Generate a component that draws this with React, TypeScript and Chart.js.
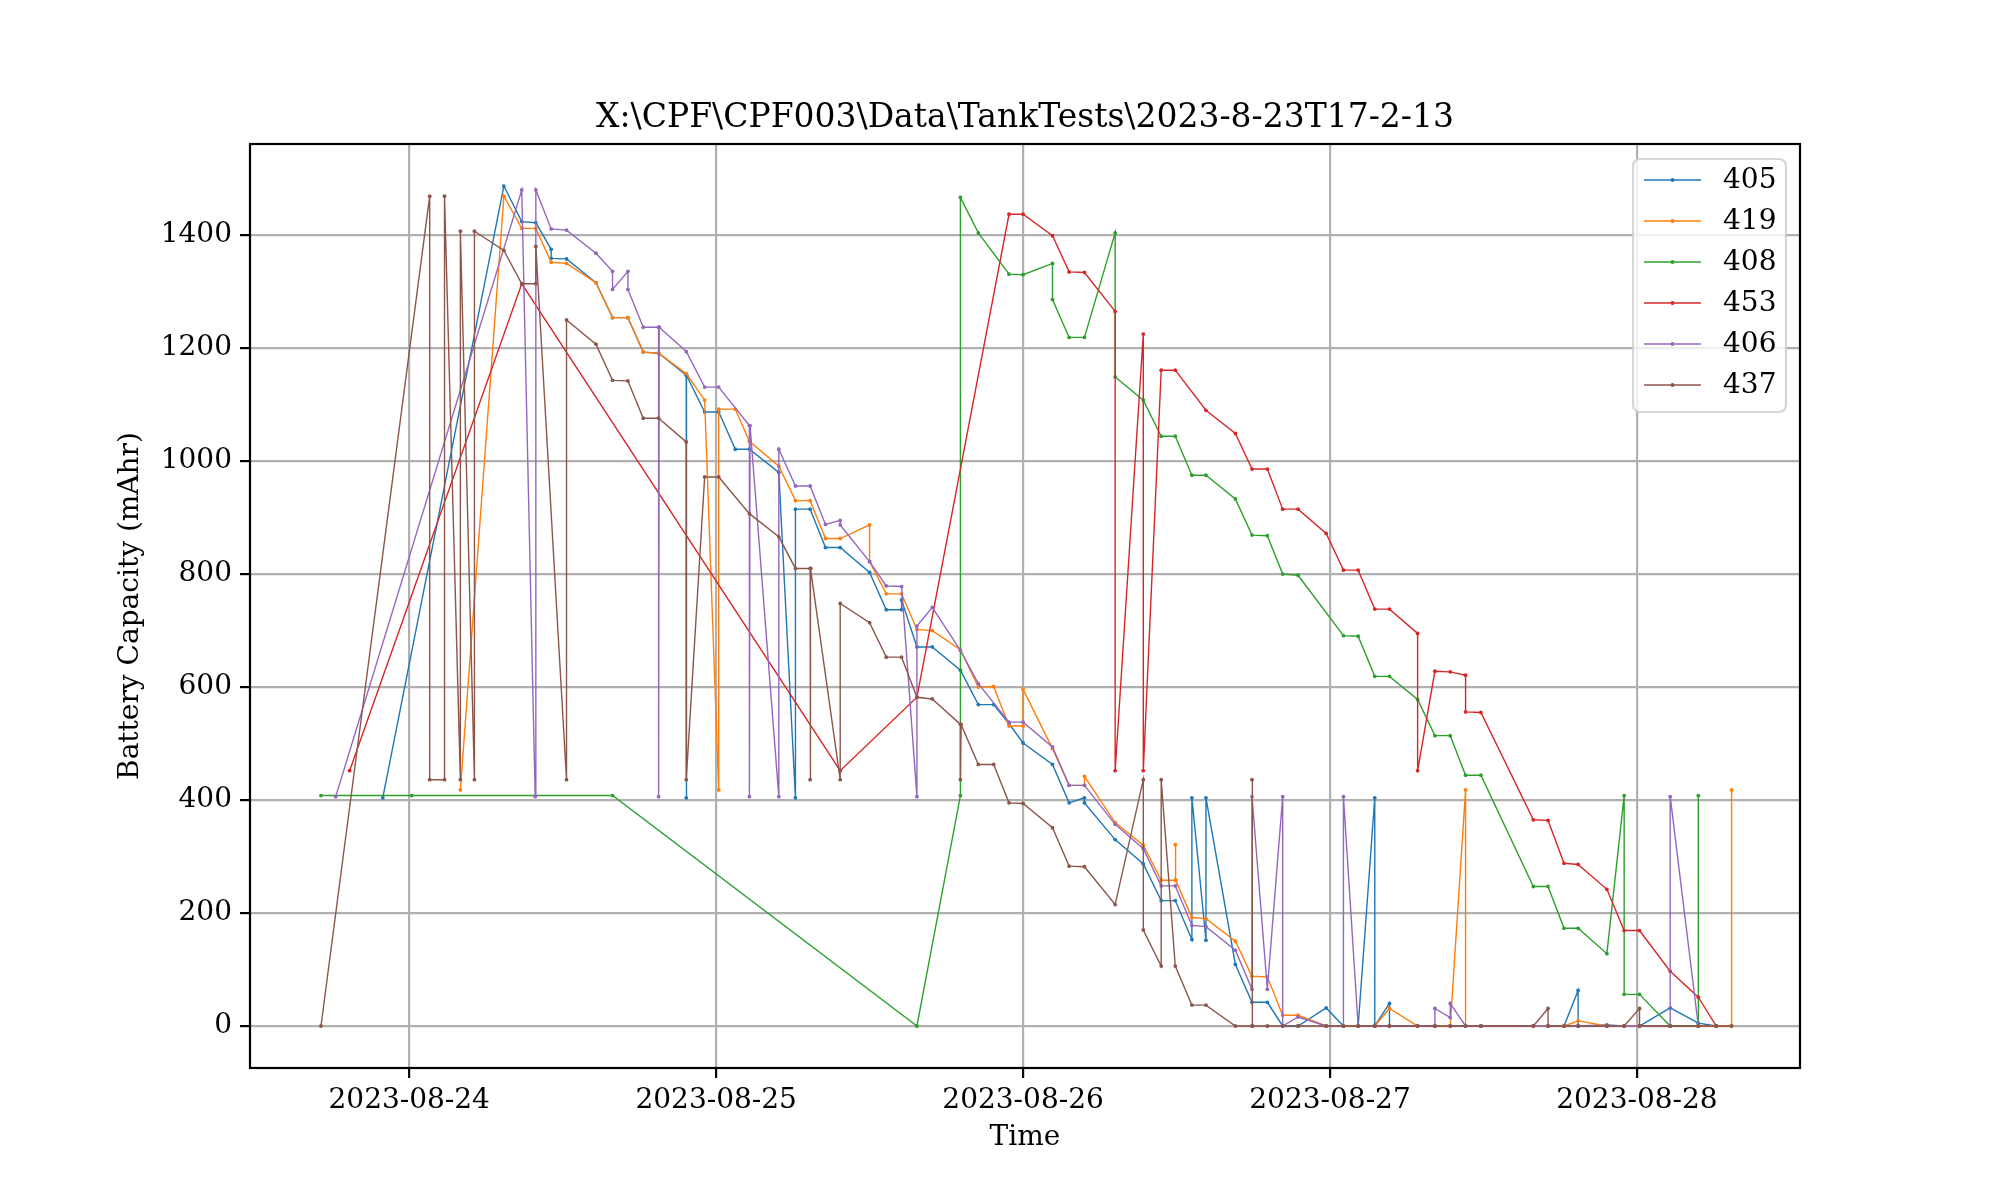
import { useEffect, useRef } from 'react';
import { Chart, registerables } from 'chart.js';

Chart.register(...registerables);

// time is hours since 2023-08-24 00:00, value is battery capacity in mAhr
const s405: [number, number][] = [
  [-2.07, 404], [7.4, 1487], [8.8, 1424], [9.9, 1422], [11.1, 1375], [11.1, 1359], [12.3, 1358],
  [14.6, 1316], [15.9, 1254], [17.1, 1254], [18.3, 1193], [19.5, 1191], [21.66, 1152], [21.66, 404],
  [21.7, 1152], [23.1, 1087], [24.2, 1087], [25.5, 1021], [26.6, 1021], [28.9, 980], [30.2, 404],
  [30.2, 915], [31.35, 915], [32.55, 847], [33.7, 847], [36.0, 803], [37.3, 737], [38.5, 737],
  [38.5, 754], [39.7, 671], [40.9, 671], [43.1, 630], [44.5, 569], [45.7, 569], [46.9, 535],
  [48.0, 501], [50.3, 463], [51.6, 395], [52.8, 404], [52.8, 395], [55.2, 330], [57.4, 287],
  [58.8, 222], [59.9, 222], [61.2, 153], [61.2, 404], [62.3, 152], [62.3, 404], [64.6, 109],
  [65.9, 42], [67.1, 42], [68.3, 0], [69.5, 0], [71.7, 32], [73.05, 0], [74.2, 0], [75.5, 404],
  [75.5, 0], [76.65, 40], [76.65, 0], [78.85, 0], [80.2, 0], [81.4, 0], [82.6, 0], [83.8, 0],
  [87.9, 0], [89.05, 0], [90.3, 0], [91.4, 63], [91.4, 0], [93.65, 2], [95.0, 0], [96.2, 0],
  [98.6, 32], [100.8, 5], [102.2, 0],
];

const s419: [number, number][] = [
  [4.0, 418], [7.4, 1469], [8.8, 1412], [9.9, 1412], [11.1, 1352], [12.3, 1350], [14.6, 1316],
  [15.9, 1254], [17.1, 1254], [18.3, 1193], [19.5, 1191], [21.66, 1155], [23.1, 1108], [24.2, 418],
  [24.2, 1092], [25.5, 1092], [26.6, 1035], [28.9, 991], [30.2, 930], [31.35, 930], [32.55, 863],
  [33.7, 863], [36.0, 887], [36.0, 822], [37.3, 765], [38.5, 765], [39.7, 702], [40.9, 700],
  [43.1, 666], [44.5, 600], [45.7, 601], [46.9, 531], [48.0, 531], [48.0, 596], [50.3, 491],
  [51.6, 426], [52.8, 426], [52.8, 442], [55.2, 360], [57.4, 320], [58.8, 258], [59.9, 258],
  [59.9, 321], [59.95, 258], [61.2, 192], [62.3, 190], [64.6, 150], [65.9, 88], [67.1, 87],
  [68.3, 19], [69.5, 19], [71.7, 0], [73.05, 0], [74.2, 0], [75.5, 0], [76.65, 31], [78.85, 0],
  [80.2, 0], [81.4, 0], [82.6, 418], [82.6, 0], [83.8, 0], [87.9, 0], [89.05, 0], [90.3, 0],
  [91.4, 9], [93.65, 0], [95.0, 0], [96.2, 0], [98.6, 0], [100.8, 0], [102.2, 0], [103.4, 0],
  [103.4, 418],
];

const s408: [number, number][] = [
  [-6.9, 408], [0.2, 408], [15.9, 408], [39.7, 0], [43.1, 408], [43.1, 1467], [44.5, 1404],
  [46.9, 1331], [48.0, 1330], [50.3, 1350], [50.3, 1286], [51.6, 1219], [52.8, 1219], [55.2, 1404],
  [55.2, 1149], [57.4, 1108], [58.8, 1044], [59.9, 1044], [61.2, 975], [62.3, 975], [64.6, 933],
  [65.9, 869], [67.1, 868], [68.3, 800], [69.5, 798], [73.05, 691], [74.2, 690], [75.5, 619],
  [76.65, 619], [78.85, 578], [80.2, 514], [81.4, 514], [82.6, 444], [83.8, 444], [87.9, 247],
  [89.05, 247], [90.3, 173], [91.4, 173], [93.65, 128], [95.0, 408], [95.0, 56], [96.2, 56],
  [98.6, 0], [100.8, 0], [100.8, 408],
];

const s453: [number, number][] = [
  [-4.66, 452], [8.8, 1314], [33.7, 452], [39.7, 582], [46.9, 1437], [48.0, 1437], [50.3, 1399],
  [51.6, 1335], [52.8, 1334], [55.2, 1265], [55.2, 452], [57.4, 1225], [57.4, 452], [58.8, 1161],
  [59.9, 1161], [62.3, 1090], [64.6, 1049], [65.9, 986], [67.1, 986], [68.3, 915], [69.5, 915],
  [71.7, 872], [73.05, 807], [74.2, 807], [75.5, 738], [76.65, 738], [78.85, 695], [78.85, 452],
  [80.2, 628], [81.4, 627], [82.6, 621], [82.6, 556], [83.8, 555], [87.9, 365], [89.05, 364],
  [90.3, 288], [91.4, 286], [93.65, 242], [95.0, 169], [96.2, 169], [98.6, 97], [100.8, 51],
  [102.2, 0],
];

const s406: [number, number][] = [
  [-5.75, 406], [8.8, 1480], [9.85, 406], [9.9, 1480], [11.1, 1411], [12.3, 1409], [14.6, 1368],
  [15.9, 1336], [15.9, 1304], [17.1, 1336], [17.1, 1304], [18.3, 1237], [19.5, 1237], [19.5, 406],
  [19.55, 1237], [21.66, 1194], [23.1, 1131], [24.2, 1131], [26.6, 1063], [26.6, 406], [26.65, 1063],
  [28.9, 406], [28.9, 1021], [30.2, 956], [31.35, 956], [32.55, 888], [33.7, 895], [33.7, 887],
  [36.0, 822], [37.3, 779], [38.5, 778], [39.7, 406], [39.7, 708], [40.9, 741], [43.1, 665],
  [44.5, 606], [46.9, 538], [48.0, 538], [50.3, 494], [51.6, 426], [52.8, 426], [55.2, 357],
  [57.4, 314], [58.8, 248], [59.9, 248], [61.2, 178], [62.3, 176], [64.6, 134], [65.9, 65],
  [65.9, 406], [67.1, 65], [68.3, 406], [68.3, 0], [69.5, 16], [71.7, 0], [73.05, 0], [73.05, 406],
  [74.2, 0], [75.5, 0], [76.65, 0], [78.85, 0], [80.2, 0], [80.2, 31], [81.4, 15], [81.4, 40],
  [82.6, 0], [83.8, 0], [87.9, 0], [89.05, 0], [90.3, 0], [91.4, 0], [93.65, 0], [95.0, 0],
  [96.2, 0], [98.6, 0], [98.6, 406], [100.8, 0],
];

const s437: [number, number][] = [
  [-6.9, 0], [1.6, 1469], [1.6, 436], [2.76, 436], [2.76, 1469], [4.0, 436], [4.0, 1407], [5.1, 436],
  [5.1, 1407], [7.4, 1373], [8.8, 1314], [9.9, 1314], [9.9, 1380], [12.3, 436], [12.3, 1250],
  [14.6, 1207], [15.9, 1143], [17.1, 1142], [18.3, 1076], [19.5, 1076], [21.66, 1034], [21.66, 436],
  [23.1, 972], [24.2, 972], [26.6, 907], [28.9, 866], [30.2, 810], [31.35, 810], [31.35, 436],
  [31.4, 810], [33.7, 436], [33.7, 748], [36.0, 714], [37.3, 653], [38.5, 653], [39.7, 582],
  [40.9, 579], [43.1, 534], [43.1, 436], [43.15, 534], [44.5, 463], [45.7, 463], [46.9, 395],
  [48.0, 394], [50.3, 351], [51.6, 283], [52.8, 282], [55.2, 215], [57.4, 436], [57.4, 170],
  [58.8, 106], [58.8, 436], [59.9, 106], [61.2, 37], [62.3, 37], [64.6, 0], [65.9, 0], [65.9, 436],
  [65.95, 0], [67.1, 0], [68.3, 0], [69.5, 0], [71.7, 0], [73.05, 0], [74.2, 0], [75.5, 0],
  [76.65, 0], [78.85, 0], [80.2, 0], [81.4, 0], [82.6, 0], [83.8, 0], [87.9, 0], [89.05, 31],
  [89.05, 0], [90.3, 0], [91.4, 0], [93.65, 0], [95.0, 0], [96.2, 31], [96.2, 0], [98.6, 0],
  [100.8, 0], [102.2, 0], [103.4, 0],
];

const seriesNames = ['405', '419', '408', '453', '406', '437'];
const seriesData = [s405, s419, s408, s453, s406, s437];
const seriesColors = ['#1f77b4', '#ff7f0e', '#2ca02c', '#d62728', '#9467bd', '#8c564b'];

const dayTicks = [0, 24, 48, 72, 96];
const dayLabels = ['2023-08-24', '2023-08-25', '2023-08-26', '2023-08-27', '2023-08-28'];
const capacityTicks = [0, 200, 400, 600, 800, 1000, 1200, 1400];

const chartTitle = 'X:\\CPF\\CPF003\\Data\\TankTests\\2023-8-23T17-2-13';
const xTitle = 'Time';
const yTitle = 'Battery Capacity (mAhr)';

const FONT = '"DejaVu Serif", "Liberation Serif", serif';

// frame, titles and the matplotlib-style legend
const decorations = {
  id: 'decorations',
  afterDraw(chart: Chart) {
    const { ctx, chartArea } = chart;
    const { left, right, top, bottom } = chartArea;
    ctx.save();

    ctx.strokeStyle = '#000';
    ctx.lineWidth = 2.2;
    ctx.strokeRect(left, top, right - left, bottom - top);

    ctx.fillStyle = '#000';
    ctx.textAlign = 'center';
    ctx.textBaseline = 'alphabetic';
    ctx.font = `33px ${FONT}`;
    ctx.fillText(chartTitle, (left + right) / 2, top - 17);

    ctx.font = `28px ${FONT}`;
    ctx.textBaseline = 'middle';
    ctx.fillText(xTitle, (left + right) / 2, 1138);

    ctx.save();
    ctx.translate(131, (top + bottom) / 2);
    ctx.rotate(-Math.PI / 2);
    ctx.fillText(yTitle, 0, 0);
    ctx.restore();

    // legend box
    const bx = 1633, by = 159, bw = 153, bh = 253, r = 7;
    ctx.beginPath();
    ctx.moveTo(bx + r, by);
    ctx.arcTo(bx + bw, by, bx + bw, by + bh, r);
    ctx.arcTo(bx + bw, by + bh, bx, by + bh, r);
    ctx.arcTo(bx, by + bh, bx, by, r);
    ctx.arcTo(bx, by, bx + bw, by, r);
    ctx.closePath();
    ctx.fillStyle = 'rgba(255,255,255,0.8)';
    ctx.fill();
    ctx.strokeStyle = 'rgba(204,204,204,0.8)';
    ctx.lineWidth = 2.2;
    ctx.stroke();

    seriesNames.forEach((name, i) => {
      const y = 180 + i * 41;
      ctx.strokeStyle = seriesColors[i];
      ctx.lineWidth = 1.4;
      ctx.beginPath();
      ctx.moveTo(1644, y);
      ctx.lineTo(1701, y);
      ctx.stroke();
      ctx.fillStyle = seriesColors[i];
      ctx.beginPath();
      ctx.arc(1672.5, y, 2, 0, Math.PI * 2);
      ctx.fill();
      ctx.fillStyle = '#000';
      ctx.textAlign = 'left';
      ctx.textBaseline = 'middle';
      ctx.font = `28px ${FONT}`;
      ctx.fillText(name, 1723, y + 1);
    });

    ctx.restore();
  },
};

export default function App() {
  const canvasRef = useRef<HTMLCanvasElement>(null);

  useEffect(() => {
    if (!canvasRef.current) return;

    const chart = new Chart(canvasRef.current, {
      type: 'line',
      data: {
        datasets: seriesData.map((pts, i) => ({
          label: seriesNames[i],
          data: pts.map(([x, y]) => ({ x, y })),
          borderColor: seriesColors[i],
          backgroundColor: seriesColors[i],
          pointBackgroundColor: seriesColors[i],
          borderWidth: 1.4,
          pointRadius: 1.9,
          pointBorderWidth: 0,
          pointHoverRadius: 0,
          tension: 0,
          fill: false,
          order: seriesData.length - 1 - i,
        })),
      },
      options: {
        responsive: false,
        animation: false,
        devicePixelRatio: 1,
        events: [],
        layout: { padding: { left: 0, top: 144, right: 200, bottom: 0 } },
        plugins: {
          legend: { display: false },
          tooltip: { enabled: false },
          title: { display: false },
        },
        scales: {
          x: {
            type: 'linear',
            min: -12.45,
            max: 108.75,
            afterFit: (axis: any) => {
              axis.height = 132;
            },
            afterBuildTicks: (axis: any) => {
              axis.ticks = dayTicks.map((v) => ({ value: v }));
            },
            grid: {
              color: '#b0b0b0',
              lineWidth: 2.2,
              tickColor: '#000',
              tickWidth: 2.2,
              tickLength: 10,
            },
            border: { display: false },
            ticks: {
              color: '#000',
              font: { family: FONT, size: 28 },
              padding: 6,
              maxRotation: 0,
              autoSkip: false,
              callback: (value: any) => {
                const i = dayTicks.indexOf(Number(value));
                return i >= 0 ? dayLabels[i] : '';
              },
            },
          },
          y: {
            type: 'linear',
            min: -74.35,
            max: 1561.4,
            afterFit: (axis: any) => {
              axis.width = 250;
            },
            afterBuildTicks: (axis: any) => {
              axis.ticks = capacityTicks.map((v) => ({ value: v }));
            },
            grid: {
              color: '#b0b0b0',
              lineWidth: 2.2,
              tickColor: '#000',
              tickWidth: 2.2,
              tickLength: 10,
            },
            border: { display: false },
            ticks: {
              color: '#000',
              font: { family: FONT, size: 28 },
              padding: 8,
              autoSkip: false,
              callback: (value: any) => String(value),
            },
          },
        },
      },
      plugins: [decorations],
    });

    return () => {
      chart.destroy();
    };
  }, []);

  return (
    <div style={{ position: 'absolute', left: 0, top: 0, width: 2000, height: 1200, background: '#fff' }}>
      <canvas ref={canvasRef} width={2000} height={1200} style={{ display: 'block' }} />
    </div>
  );
}
